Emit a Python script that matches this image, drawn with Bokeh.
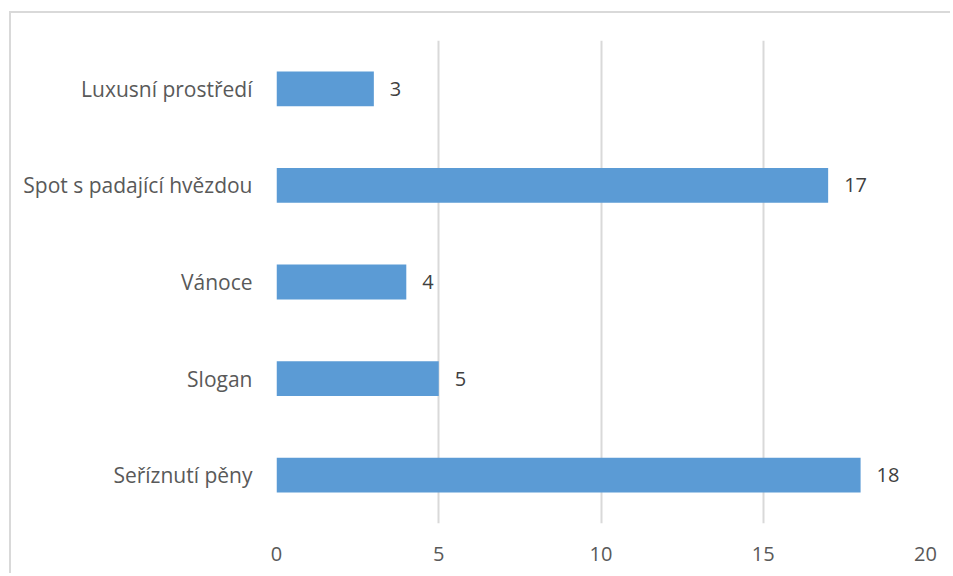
from bokeh.plotting import figure
from bokeh.models import ColumnDataSource, LabelSet, FixedTicker, Range1d
from bokeh.core.properties import value
from bokeh.embed import file_html
from bokeh.resources import INLINE

categories = ["Seříznutí pěny", "Slogan", "Vánoce", "Spot s padající hvězdou", "Luxusní prostředí"]
values = [18, 5, 4, 17, 3]
x_ticks = [0, 5, 10, 15, 20]

FONT = "Open Sans"
FS = "20px"
src = ColumnDataSource(dict(cat=categories, val=values, lbl=[str(v) for v in values]))

OX, OY, BW = 9, 11, 2
CX, CY = OX + BW, OY + BW
W = 953 - CX - 1
H = 576 - CY - 1
p = figure(width=W, height=H, y_range=categories, x_range=Range1d(0, 20),
           output_backend="svg", toolbar_location=None,
           min_border_left=276 - CX, min_border_right=(CX + W) - 925, min_border_top=40 - CY,
           min_border_bottom=(CY + H) - 523)
p.margin = (OY, 0, 0, OX)
p.styles = {"border-top": f"{BW}px solid #d9d9d9", "border-left": f"{BW}px solid #d9d9d9"}
p.outline_line_color = None
p.hbar(y="cat", right="val", left=0, height=0.36, source=src, color="#5b9bd5", line_color=None)

labels = LabelSet(x="val", y="cat", text="lbl", source=src, x_offset=16,
                  text_baseline="middle", text_align="left",
                  text_font=value(FONT), text_font_size=FS, text_color="#404040")
p.add_layout(labels)

p.xaxis.ticker = FixedTicker(ticks=x_ticks)
p.xaxis.axis_line_color = None
p.xaxis.major_tick_line_color = None
p.xaxis.minor_tick_line_color = None
p.xaxis.major_tick_out = 0
p.xaxis.major_label_standoff = 23
p.xaxis.major_label_text_font = FONT
p.xaxis.major_label_text_font_size = FS
p.xaxis.major_label_text_color = "#595959"

p.yaxis.axis_line_color = None
p.yaxis.major_tick_line_color = None
p.yaxis.major_tick_out = 0
p.yaxis.major_label_standoff = 24
p.yaxis.major_label_text_font = FONT
p.yaxis.major_label_text_font_size = "21px"
p.yaxis.major_label_text_color = "#595959"

p.xgrid.grid_line_color = "#d9d9d9"
p.xgrid.grid_line_width = 2
p.ygrid.grid_line_color = None

open("out.html", "w").write(file_html(p, INLINE))
